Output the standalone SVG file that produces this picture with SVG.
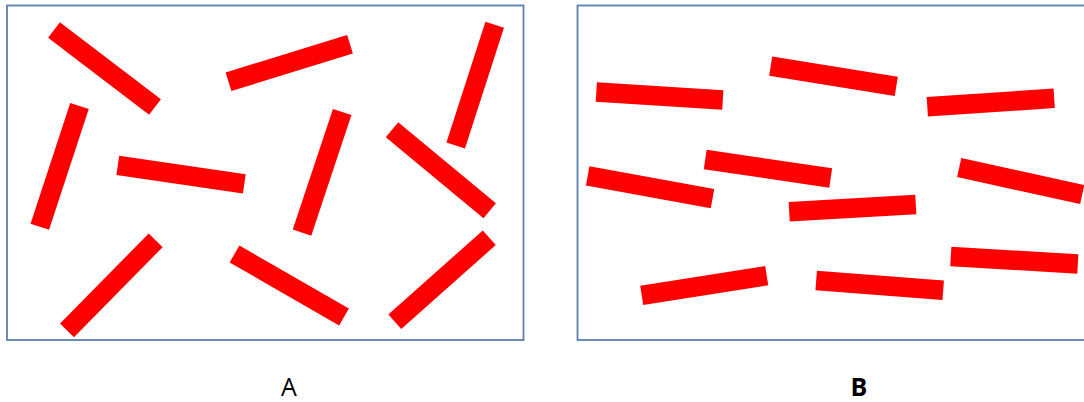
<svg xmlns="http://www.w3.org/2000/svg" width="1084" height="402" viewBox="0 0 1084 402">
<style>
.frame{fill:#ffffff;stroke:#5a80b0;stroke-width:1.8}
.bar{stroke:#ff0000;stroke-width:19.5;stroke-linecap:butt;fill:none}
.lbl{font-family:"Open Sans","Liberation Sans",sans-serif;font-size:25px;fill:#000;text-anchor:middle}
</style>
<rect width="1084" height="402" fill="#ffffff"/>
<g id="panelA">
<rect class="frame" x="7" y="5.5" width="516.5" height="334.5"/>
<line class="bar" x1="54" y1="30" x2="155" y2="107"/>
<line class="bar" x1="228.5" y1="81.8" x2="350" y2="44.2"/>
<line class="bar" x1="494.7" y1="24.8" x2="455.7" y2="145.5"/>
<line class="bar" x1="79.5" y1="106" x2="39.8" y2="226.7"/>
<line class="bar" x1="117.8" y1="165.3" x2="244.3" y2="183.8"/>
<line class="bar" x1="342.2" y1="112" x2="302" y2="232.7"/>
<line class="bar" x1="392" y1="129.7" x2="489.7" y2="210.8"/>
<line class="bar" x1="155.7" y1="240.3" x2="67" y2="330.3"/>
<line class="bar" x1="234.5" y1="254" x2="344" y2="317"/>
<line class="bar" x1="489.3" y1="237.7" x2="394.8" y2="321.7"/>
</g>
<g id="panelB">
<rect class="frame" x="577.5" y="5.5" width="508" height="334.5"/>
<line class="bar" x1="596.3" y1="92" x2="722.8" y2="100"/>
<line class="bar" x1="770.7" y1="66.2" x2="896.3" y2="86.3"/>
<line class="bar" x1="927.3" y1="106.8" x2="1054.2" y2="98.3"/>
<line class="bar" x1="587.7" y1="175.8" x2="712.5" y2="198.7"/>
<line class="bar" x1="705.2" y1="159.5" x2="830.7" y2="178"/>
<line class="bar" x1="959.2" y1="167.5" x2="1082.2" y2="194.5"/>
<line class="bar" x1="789.2" y1="211.8" x2="915.8" y2="204.5"/>
<line class="bar" x1="950.8" y1="256.5" x2="1077.8" y2="264"/>
<line class="bar" x1="641.7" y1="295.3" x2="766.7" y2="275.7"/>
<line class="bar" x1="816.2" y1="280.5" x2="943.2" y2="290.2"/>
</g>
<g id="labels">
<text class="lbl" x="289" y="396">A</text>
<text class="lbl" x="859" y="396" font-weight="bold">B</text>
</g>
</svg>
